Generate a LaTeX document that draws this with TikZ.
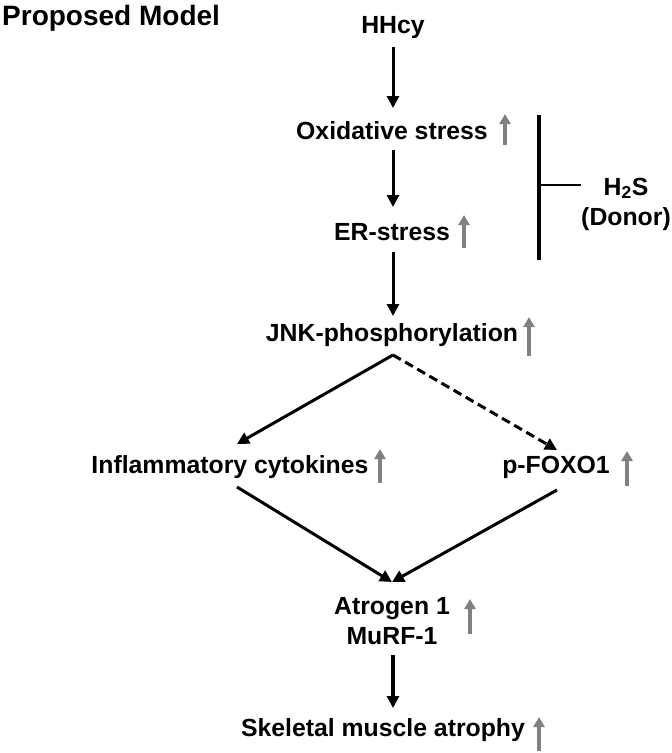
\documentclass[tikz,border=0pt]{standalone}
\usepackage{fontspec}
\setmainfont{Liberation Sans}
\usepackage{tikz}
\usetikzlibrary{arrows.meta}
\usetikzlibrary{positioning}
\tikzset{lbl/.style = {inner sep = 0, font = \fontsize{24.8}{30}\selectfont\bfseries},
         fwd/.style = {line width = 3pt, -{Triangle[width = 12pt, length = 12pt]}},
         upgray/.style = {draw = black!50, line width = 4.2pt, -{Triangle[width = 11pt, length = 10pt]}}}

\begin{document}
\begin{tikzpicture}[x = 1pt, y = -1pt]
          \useasboundingbox (0, 0) rectangle (672, 753);
          \node [lbl, anchor = west, font = \fontsize{28}{32}\selectfont\bfseries] (title) at (2, 18) {Proposed Model};

          \node [lbl] (hhcy) at (393, 28) {HHcy};
          \node [lbl] (oxi) at (392, 131) {Oxidative stress};
          \node [lbl] (er) at (392, 232) {ER-stress};
          \node [lbl] (jnk) at (392, 335) {JNK-phosphorylation};
          \node [lbl] (infl) at (230, 467) {Inflammatory cytokines};
          \node [lbl] (foxo) at (556, 467) {p-FOXO1};
          \node [lbl, align = center] (atro) at (392, 621) {Atrogen 1\\MuRF-1};
          \node [lbl] (skel) at (383, 730) {Skeletal muscle atrophy};
          \node [lbl, align = center] (hs) at (626, 204) {H$_{\mathbf 2}$S\\(Donor)};

          \coordinate (bartop) at (539, 115);
          \coordinate (barbot) at (539, 260);
          \coordinate (barmid) at (539, 185);
          \coordinate (jnkfork) at (393, 355);
          \coordinate (atrotop) at (392, 582);

          \draw [fwd] (393, 47) -- (393, 108);
          \draw [fwd] (393, 150) -- (393, 207);
          \draw [fwd] (393, 252) -- (393, 316);
          \draw [fwd] (jnkfork) -- (237, 444);
          \draw [fwd, dashed, dash pattern = on 9pt off 5pt] (jnkfork) -- (557, 450);
          \draw [fwd] (237, 487) -- (atrotop);
          \draw [fwd] (557, 490) -- (atrotop);
          \draw [fwd, line width = 3.4pt] (393, 655) -- (393, 708);

          \draw [line width = 3.2pt] (bartop) -- (barbot);
          \draw [line width = 2.8pt] (barmid) -- (581, 185);

          \draw [upgray] (505, 145) -- (505, 114);
          \draw [upgray] (464, 248) -- (464, 215);
          \draw [upgray] (529, 356) -- (529, 317);
          \draw [upgray] (380, 483) -- (380, 449);
          \draw [upgray] (627, 486) -- (627, 451);
          \draw [upgray] (470, 634) -- (470, 599);
          \draw [upgray] (539, 751) -- (539, 717);
        \end{tikzpicture}
\end{document}
